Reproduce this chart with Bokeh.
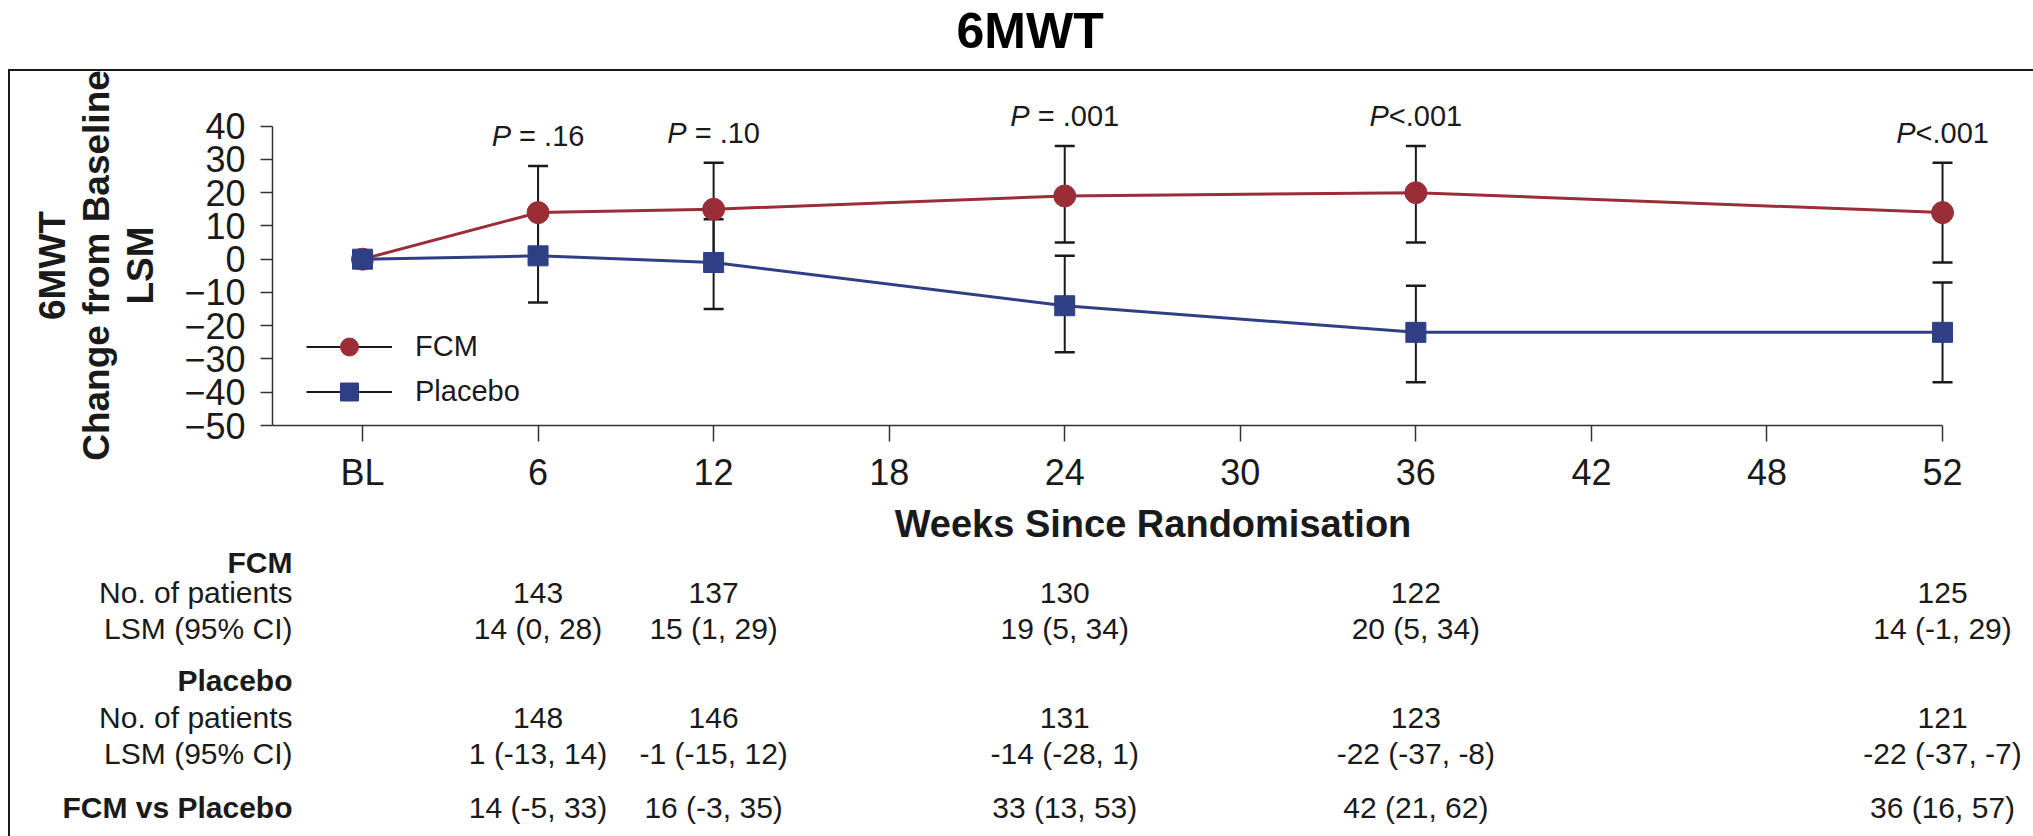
from bokeh.plotting import figure
from bokeh.models import Range1d, FixedTicker, Legend, LegendItem
from bokeh.layouts import column
from bokeh.embed import file_html
from bokeh.resources import INLINE
from bokeh.core.properties import value

# ---------------- data ----------------
TICK_LABELS = ["BL", "6", "12", "18", "24", "30", "36", "42", "48", "52"]
WEEKS = ["BL", "6", "12", "24", "36", "52"]
FCM_LSM = [0, 14, 15, 19, 20, 14]
PLACEBO_LSM = [0, 1, -1, -14, -22, -22]

CI_WEEKS = ["6", "12", "24", "36", "52"]
FCM_LOWER = [0, 1, 5, 5, -1]
FCM_UPPER = [28, 29, 34, 34, 29]
PLACEBO_LOWER = [-13, -15, -28, -37, -37]
PLACEBO_UPPER = [14, 12, 1, -8, -7]
P_VALUES = ["P = .16", "P = .10", "P = .001", "P<.001", "P<.001"]

FCM_N = [143, 137, 130, 122, 125]
PLACEBO_N = [148, 146, 131, 123, 121]
DIFF_EST = [14, 16, 33, 42, 36]
DIFF_LOWER = [-5, -3, 13, 21, 16]
DIFF_UPPER = [33, 35, 53, 62, 57]

ROW_LABELS = ["FCM", "No. of patients", "LSM (95% CI)", "Placebo",
              "No. of patients", "LSM (95% CI)", "FCM vs Placebo"]
ROW_BOLD = [True, False, False, True, False, False, True]

# ---------------- style / layout ----------------
FONT = "Liberation Sans"
RED = "#9b2d37"
BLUE = "#2f3f85"
INK = "#1a1a1a"
W = 2033
BOX_X = 10                # canvas x where the boxed body starts (margin + border)
TITLE_H = 69
BODY_TOP = TITLE_H + 2    # after the top border line
STEP_PX = 175.56          # px between successive tick slots
BL_PX = 362               # canvas x of the BL slot
A_LEFT = 272              # canvas x of y axis
A_TOP, A_BOTTOM = 105, 431
Y40_PX = 126
A_END = 547               # canvas y where the chart ends
ROW_Y = [15, 45, 81, 133, 170, 206, 260]   # table row centres (px from table top)
LABEL_RIGHT_PX = 292

def slot(w):
    return TICK_LABELS.index(w)

x_all = [slot(w) for w in WEEKS]
x_ci = [slot(w) for w in CI_WEEKS]

# ---------------- title ----------------
pT = figure(width=W, height=TITLE_H, output_backend="svg", toolbar_location=None,
            min_border_left=0, min_border_right=0, min_border_top=0, min_border_bottom=0,
            x_axis_type=None, y_axis_type=None, frame_align=False)
pT.grid.visible = False
pT.outline_line_color = None
pT.title.text = "6MWT"
pT.title.text_font = FONT
pT.title.text_font_size = "50px"
pT.title.text_font_style = "bold"
pT.title.text_color = "#000000"
pT.title.align = "left"
pT.title.offset = 956
pT.title.vertical_align = "top"
pT.title.standoff = 4

# ---------------- chart ----------------
y_per_px = 90 / (A_BOTTOM - Y40_PX)
pA = figure(width=W - BOX_X, height=A_END - BODY_TOP, output_backend="svg",
            toolbar_location=None, frame_align=False,
            x_range=Range1d((A_LEFT - BL_PX) / STEP_PX, (W - BL_PX) / STEP_PX),
            y_range=Range1d(-50, 40 + (Y40_PX - A_TOP) * y_per_px),
            min_border_left=A_LEFT - BOX_X, min_border_right=0,
            min_border_top=A_TOP - BODY_TOP, min_border_bottom=A_END - A_BOTTOM)
pA.grid.visible = False
pA.outline_line_color = None

xa = pA.xaxis[0]
xa.ticker = FixedTicker(ticks=list(range(len(TICK_LABELS))))
xa.major_label_overrides = {i: t for i, t in enumerate(TICK_LABELS)}
xa.bounds = ((A_LEFT - BL_PX) / STEP_PX, len(TICK_LABELS) - 1)
xa.major_tick_in = 0
xa.major_tick_out = 16
xa.minor_tick_out = 0
xa.minor_tick_in = 0
xa.major_label_standoff = 10
xa.major_label_text_font = FONT
xa.major_label_text_font_size = "36px"
xa.major_label_text_color = INK
xa.axis_label = "Weeks Since Randomisation"
xa.axis_label_text_font = FONT
xa.axis_label_text_font_size = "38px"
xa.axis_label_text_font_style = "bold"
xa.axis_label_text_color = INK
xa.axis_label_standoff = 7
xa.axis_line_color = "#333333"
xa.axis_line_width = 1.5
xa.major_tick_line_color = "#333333"
xa.major_tick_line_width = 1.5

ya = pA.yaxis[0]
ya.ticker = FixedTicker(ticks=list(range(-50, 41, 10)))
ya.bounds = (-50, 40)
ya.major_tick_in = 0
ya.major_tick_out = 12
ya.minor_tick_out = 0
ya.minor_tick_in = 0
ya.major_label_standoff = 15
ya.major_label_text_font = FONT
ya.major_label_text_font_size = "36px"
ya.major_label_text_color = INK
ya.axis_label = "6MWT\nChange from Baseline\nLSM"
ya.axis_label_text_font = FONT
ya.axis_label_text_font_size = "37px"
ya.axis_label_text_font_style = "bold"
ya.axis_label_text_color = INK
ya.axis_label_text_line_height = 1.08
ya.axis_label_standoff = 20
ya.axis_line_color = "#333333"
ya.axis_line_width = 1.5
ya.major_tick_line_color = "#333333"
ya.major_tick_line_width = 1.5

# lines
pA.line(x_all, FCM_LSM, line_color=RED, line_width=3)
pA.line(x_all, PLACEBO_LSM, line_color=BLUE, line_width=3)

# error bars
seg_f = pA.segment(x0=x_ci, y0=FCM_LOWER, x1=x_ci, y1=FCM_UPPER, line_color=INK, line_width=2)
seg_p = pA.segment(x0=x_ci, y0=PLACEBO_LOWER, x1=x_ci, y1=PLACEBO_UPPER, line_color=INK, line_width=2)
pA.scatter(x=x_ci * 2, y=FCM_LOWER + FCM_UPPER, marker="dash", size=20,
           line_color=INK, line_width=2.5)
pA.scatter(x=x_ci * 2, y=PLACEBO_LOWER + PLACEBO_UPPER, marker="dash", size=20,
           line_color=INK, line_width=2.5)

# markers
mk_f = pA.scatter(x_all, FCM_LSM, marker="circle", size=22, fill_color=RED, line_color=RED)
mk_p = pA.scatter(x_all, PLACEBO_LSM, marker="square", size=20, fill_color=BLUE, line_color=BLUE)

# p-values (italic P + regular remainder), centred on each time point
P_FS = 29
CW = {"P": .667, " ": .278, "=": .584, ".": .278, "<": .584}
def tw(s):
    return sum(CW.get(c, .556) for c in s) * P_FS
split = [-tw(s) / 2 + tw("P") for s in P_VALUES]
rest = [s[1:].lstrip() for s in P_VALUES]
rest_off = [sp + (tw(" ") if s[1:].startswith(" ") else 0) for s, sp in zip(P_VALUES, split)]
pA.text(x=x_ci, y=FCM_UPPER, text=["P"] * len(P_VALUES), x_offset=split, y_offset=-30,
        text_align="right", text_baseline="middle", text_font=value(FONT),
        text_font_size=f"{P_FS}px", text_font_style="italic", text_color=INK)
pA.text(x=x_ci, y=FCM_UPPER, text=rest, x_offset=rest_off, y_offset=-30,
        text_align="left", text_baseline="middle", text_font=value(FONT),
        text_font_size=f"{P_FS}px", text_color=INK)

legend = Legend(items=[LegendItem(label="FCM", renderers=[seg_f, mk_f]),
                       LegendItem(label="Placebo", renderers=[seg_p, mk_p])],
                location=(34, 11), orientation="vertical",
                glyph_width=86, glyph_height=45, label_standoff=23, spacing=0,
                padding=0, margin=0, border_line_color=None, background_fill_alpha=0,
                label_text_font=FONT, label_text_font_size="29px", label_text_color=INK)
pA.add_layout(legend)

# ---------------- table ----------------
B_H = 836 - A_END
pB = figure(width=W - BOX_X, height=B_H, output_backend="svg", toolbar_location=None,
            frame_align=False,
            x_range=Range1d((BOX_X - BL_PX) / STEP_PX, (W - BL_PX) / STEP_PX),
            y_range=Range1d(B_H, 0),
            min_border_left=0, min_border_right=0, min_border_top=0, min_border_bottom=0,
            x_axis_type=None, y_axis_type=None)
pB.grid.visible = False
pB.outline_line_color = None

label_x = (LABEL_RIGHT_PX - BL_PX) / STEP_PX
for lab, yy, bold in zip(ROW_LABELS, ROW_Y, ROW_BOLD):
    pB.text(x=[label_x], y=[yy], text=[lab], text_align="right", text_baseline="middle",
            text_font=value(FONT), text_font_size="30px",
            text_font_style="bold" if bold else "normal", text_color=INK)

fcm_ci_text = [f"{m} ({lo}, {hi})" for m, lo, hi in zip(FCM_LSM[1:], FCM_LOWER, FCM_UPPER)]
pl_ci_text = [f"{m} ({lo}, {hi})" for m, lo, hi in zip(PLACEBO_LSM[1:], PLACEBO_LOWER, PLACEBO_UPPER)]
diff_text = [f"{m} ({lo}, {hi})" for m, lo, hi in zip(DIFF_EST, DIFF_LOWER, DIFF_UPPER)]
rows = {1: [str(n) for n in FCM_N], 2: fcm_ci_text, 4: [str(n) for n in PLACEBO_N],
        5: pl_ci_text, 6: diff_text}
for r, texts in rows.items():
    pB.text(x=x_ci, y=[ROW_Y[r]] * len(texts), text=texts, text_align="center",
            text_baseline="middle", text_font=value(FONT), text_font_size="30px",
            text_color=INK)

body = column(pA, pB, spacing=0,
              styles={"margin-left": "8px", "border-left": "2px solid #1a1a1a",
                      "border-top": "2px solid #1a1a1a"})
layout = column(pT, body, spacing=0)
open("out.html", "w").write(file_html(layout, INLINE))
